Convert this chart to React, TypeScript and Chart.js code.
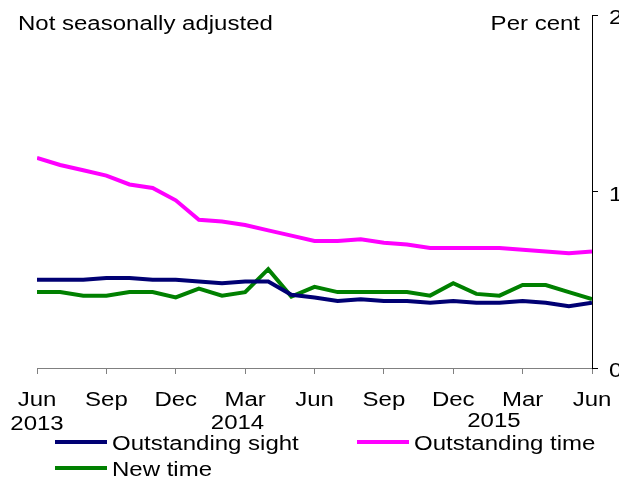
import React, { useEffect, useRef } from "react";
import { Chart, registerables } from "chart.js";

Chart.register(...registerables);

const months = ["Jun","Jul","Aug","Sep","Oct","Nov","Dec","Jan","Feb","Mar","Apr","May","Jun","Jul","Aug","Sep","Oct","Nov","Dec","Jan","Feb","Mar","Apr","May","Jun"];
const yearLabels = [
  { index: 0, text: "2013", baseline: 430 },
  { index: 8.67, text: "2014", baseline: 429 },
  { index: 19.76, text: "2015", baseline: 427 },
];
const outstandingSight = [0.50,0.50,0.50,0.51,0.51,0.50,0.50,0.49,0.48,0.49,0.49,0.415,0.40,0.38,0.39,0.38,0.38,0.37,0.38,0.37,0.37,0.38,0.37,0.35,0.37];
const outstandingTime = [1.19,1.15,1.12,1.09,1.04,1.02,0.95,0.84,0.83,0.81,0.78,0.75,0.72,0.72,0.73,0.71,0.70,0.68,0.68,0.68,0.68,0.67,0.66,0.65,0.66];
const newTime = [0.43,0.43,0.41,0.41,0.43,0.43,0.40,0.45,0.41,0.43,0.56,0.405,0.46,0.43,0.43,0.43,0.43,0.41,0.48,0.42,0.41,0.47,0.47,0.43,0.39];
const yTicks = [0, 1, 2];

const seriesNames = ["Outstanding sight", "Outstanding time", "New time"];
const seriesColors = ["#000073", "#ff00ff", "#008000"];

const FONT = "'Liberation Sans', Arial, sans-serif";
const SX = 1.2;

const toPoints = (arr: number[]) => arr.map((v, i) => ({ x: i, y: v }));

function txt(ctx: CanvasRenderingContext2D, s: string, x: number, y: number, align: CanvasTextAlign) {
  ctx.save();
  ctx.translate(x, y);
  ctx.scale(SX, 1);
  ctx.textAlign = align;
  ctx.textBaseline = "alphabetic";
  ctx.fillText(s, 0, 0);
  ctx.restore();
}

const overlayPlugin = {
  id: "overlay",
  afterDraw(chart: any) {
    const ctx = chart.ctx;
    const xs = chart.scales.x;
    const ys = chart.scales.y;
    ctx.save();
    ctx.fillStyle = "#000";
    ctx.font = `20px ${FONT}`;
    txt(ctx, "Not seasonally adjusted", 18, 30, "left");
    txt(ctx, "Per cent", 580, 30, "right");
    for (let i = 0; i < months.length; i += 3) {
      txt(ctx, months[i], xs.getPixelForValue(i), 406, "center");
    }
    yearLabels.forEach((y) => {
      txt(ctx, y.text, xs.getPixelForValue(y.index), y.baseline, "center");
    });
    yTicks.forEach((v) => {
      txt(ctx, String(v), 609, ys.getPixelForValue(v) + 9, "left");
    });
    // legend
    const items = [
      { x: 55, y: 442, i: 0 },
      { x: 357, y: 442, i: 1 },
      { x: 55, y: 468, i: 2 },
    ];
    items.forEach((it) => {
      ctx.strokeStyle = seriesColors[it.i];
      ctx.lineWidth = 4;
      ctx.beginPath();
      ctx.moveTo(it.x, it.y);
      ctx.lineTo(it.x + 52, it.y);
      ctx.stroke();
      ctx.fillStyle = "#000";
      txt(ctx, seriesNames[it.i], it.x + 57, it.y + 8, "left");
    });
    ctx.restore();
  },
};

export default function App() {
  const ref = useRef<HTMLCanvasElement>(null);
  useEffect(() => {
    document.body.style.margin = "0";
    const canvas = ref.current!;
    const chart = new Chart(canvas, {
      type: "line",
      data: {
        datasets: [
          { label: seriesNames[0], data: toPoints(outstandingSight), borderColor: seriesColors[0], borderWidth: 4, pointRadius: 0, tension: 0 },
          { label: seriesNames[1], data: toPoints(outstandingTime), borderColor: seriesColors[1], borderWidth: 4, pointRadius: 0, tension: 0 },
          { label: seriesNames[2], data: toPoints(newTime), borderColor: seriesColors[2], borderWidth: 4, pointRadius: 0, tension: 0 },
        ],
      },
      options: {
        responsive: false,
        animation: false,
        layout: { padding: { top: 15, left: 37, right: 0, bottom: 0 } },
        plugins: { legend: { display: false }, tooltip: { enabled: false } },
        scales: {
          x: {
            type: "linear",
            min: 0,
            max: months.length - 1,
            afterFit: (s: any) => { s.height = 112; },
            afterBuildTicks: (s: any) => {
              const t = [];
              for (let i = 0; i < months.length; i += 3) t.push({ value: i });
              s.ticks = t;
            },
            ticks: { display: false, autoSkip: false, maxRotation: 0 },
            grid: { drawOnChartArea: false, drawTicks: true, tickLength: 6, color: "#808080", lineWidth: 1 },
            border: { display: true, color: "#808080", width: 1 },
          },
          y: {
            position: "right",
            min: 0,
            max: 2,
            afterFit: (s: any) => { s.width = 27; },
            afterBuildTicks: (s: any) => { s.ticks = yTicks.map((v) => ({ value: v })); },
            ticks: { display: false },
            grid: { drawOnChartArea: false, drawTicks: true, tickLength: 6, color: "#000", lineWidth: 1 },
            border: { display: true, color: "#000", width: 1 },
          },
        },
      },
      plugins: [overlayPlugin],
    } as any);
    return () => chart.destroy();
  }, []);
  return <canvas ref={ref} width={619} height={480} style={{ display: "block" }} />;
}
